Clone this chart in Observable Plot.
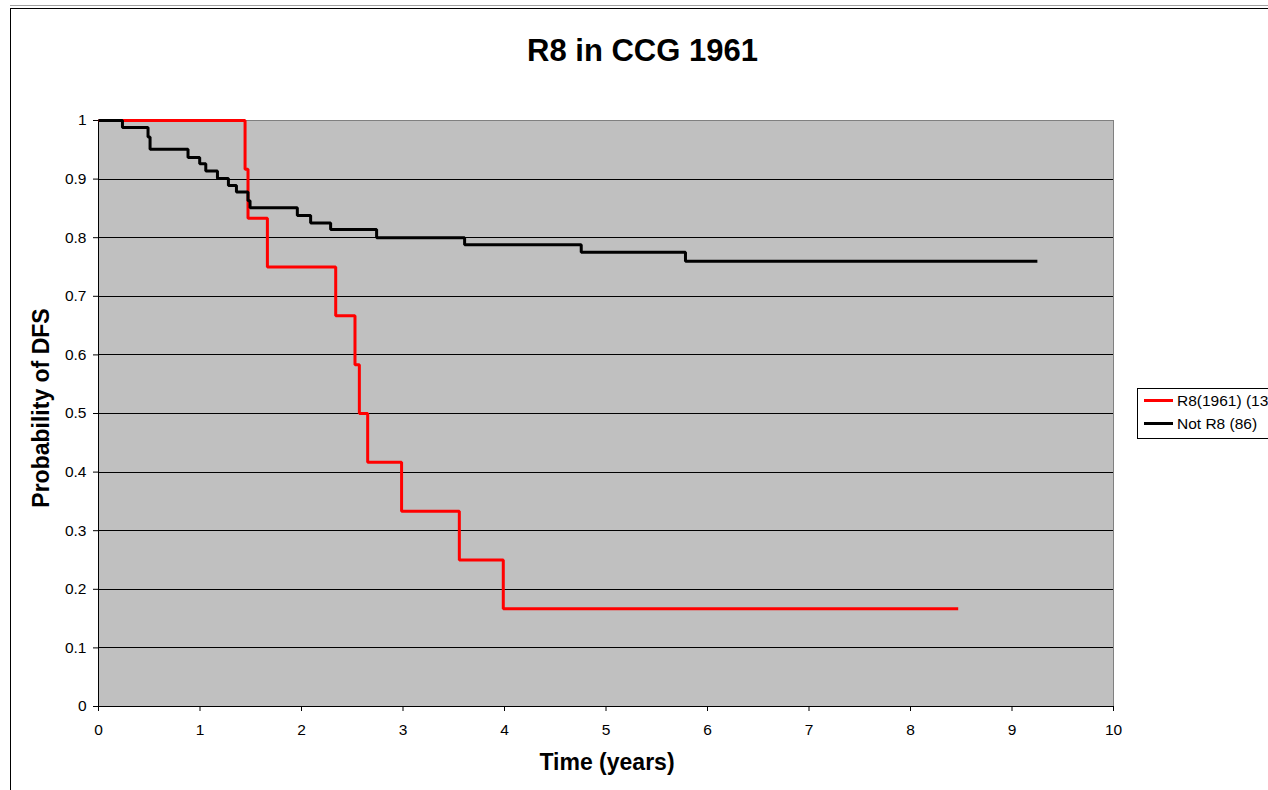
<!DOCTYPE html>
<html>
<head>
<meta charset="utf-8">
<script src="https://cdn.jsdelivr.net/npm/d3@7"></script>
<script src="https://cdn.jsdelivr.net/npm/@observablehq/plot@0.6"></script>
<style>
  html, body { margin: 0; padding: 0; background: #fff; }
  body { width: 1268px; height: 790px; overflow: hidden; position: relative; font-family: Arial, "Liberation Sans", sans-serif; }
  #frameTop { position: absolute; left: 10px; top: 5px; width: 1300px; height: 0; border-top: 1px solid #a0a0a0; }
  #frame { position: absolute; left: 10px; top: 8px; width: 1300px; height: 900px; border-top: 1px solid #000; border-left: 1px solid #000; }
  #chart { position: absolute; left: 0; top: 0; }
  .title { position: absolute; left: 0; width: 1285px; text-align: center; top: 33px; font-weight: bold; font-size: 31px; line-height: 36px; }
  .xlabel { position: absolute; left: 407px; width: 400px; text-align: center; top: 748px; font-weight: bold; font-size: 23px; line-height: 28px; }
  .ylabel { position: absolute; left: 41px; top: 408px; transform: translate(-50%, -50%) rotate(-90deg); white-space: nowrap; font-weight: bold; font-size: 23px; line-height: 28px; }
  #legend { position: absolute; left: 1137px; top: 388px; width: 200px; height: 49px; border: 1px solid #000; background: #fff; }
  .li { position: absolute; left: 6px; height: 20px; font-size: 15.5px; line-height: 20px; white-space: nowrap; }
  .sw { display: inline-block; width: 29px; height: 3px; vertical-align: middle; margin-right: 4px; position: relative; top: -1px; }
</style>
</head>
<body>
<div id="frameTop"></div>
<div id="frame"></div>
<div id="chart"></div>
<div class="title">R8 in CCG 1961</div>
<div class="ylabel">Probability of DFS</div>
<div class="xlabel">Time (years)</div>
<div id="legend"></div>
<script>
// Series: Kaplan-Meier style step curves (time in years, probability of DFS)
const seriesNames = ["R8(1961) (13)", "Not R8 (86)"];
const seriesColors = ["#FF0000", "#000000"];

const r8Time = [0, 1.444, 1.473, 1.664, 2.337, 2.527, 2.570, 2.652, 2.986, 3.555, 3.988, 8.47];
const r8Prob = [1, 0.917, 0.833, 0.750, 0.667, 0.583, 0.500, 0.417, 0.333, 0.250, 0.167, 0.167];

const notR8Time = [0, 0.236, 0.488, 0.508, 0.882, 0.997, 1.057, 1.172, 1.280, 1.359, 1.473, 1.493, 1.959, 2.090, 2.287, 2.740, 3.607, 4.756, 5.783, 9.25];
const notR8Prob = [1, 0.988, 0.972, 0.951, 0.937, 0.926, 0.914, 0.901, 0.889, 0.878, 0.863, 0.851, 0.838, 0.825, 0.814, 0.800, 0.788, 0.775, 0.760, 0.760];

const xTicks = [0, 1, 2, 3, 4, 5, 6, 7, 8, 9, 10];
const yTicks = [0, 0.1, 0.2, 0.3, 0.4, 0.5, 0.6, 0.7, 0.8, 0.9, 1];

const r8Data = r8Time.map((t, i) => ({t, p: r8Prob[i]}));
const notR8Data = notR8Time.map((t, i) => ({t, p: notR8Prob[i]}));

const chart = Plot.plot({
  width: 1268,
  height: 790,
  marginLeft: 98,
  marginRight: 155,
  marginTop: 120,
  marginBottom: 84,
  style: { fontFamily: "Arial, 'Liberation Sans', sans-serif", fontSize: "15.5px", color: "#000", background: "transparent", overflow: "visible" },
  x: { domain: [0, 10] },
  y: { domain: [0, 1] },
  marks: [
    Plot.frame({ fill: "#C0C0C0", stroke: null }),
    Plot.ruleY(yTicks.filter(v => v > 0 && v < 1), { stroke: "#000", strokeWidth: 1, shapeRendering: "crispEdges" }),
    Plot.ruleY([1], { stroke: "#808080", strokeWidth: 1, shapeRendering: "crispEdges" }),
    Plot.ruleX([10], { stroke: "#808080", strokeWidth: 1.5, shapeRendering: "crispEdges" }),
    Plot.ruleX([0], { stroke: "#000", strokeWidth: 1.5, shapeRendering: "crispEdges" }),
    Plot.ruleY([0], { stroke: "#000", strokeWidth: 1.5, shapeRendering: "crispEdges" }),
    Plot.axisY(yTicks, { tickSize: 5, tickPadding: 7, tickFormat: d => String(+d.toFixed(1)), label: null, stroke: "#000", fill: "#000" }),
    Plot.axisX(xTicks, { tickSize: 5, tickPadding: 12, tickFormat: d => String(d), label: null, stroke: "#000", fill: "#000" }),
    Plot.line(r8Data, { x: "t", y: "p", curve: "step-after", stroke: seriesColors[0], strokeWidth: 3, strokeLinejoin: "miter", strokeLinecap: "butt" }),
    Plot.line(notR8Data, { x: "t", y: "p", curve: "step-after", stroke: seriesColors[1], strokeWidth: 3, strokeLinejoin: "miter", strokeLinecap: "butt" })
  ]
});
document.getElementById("chart").appendChild(chart);

const legend = document.getElementById("legend");
seriesNames.forEach((name, i) => {
  const row = document.createElement("div");
  row.className = "li";
  row.style.top = (2 + i * 23) + "px";
  const sw = document.createElement("span");
  sw.className = "sw";
  sw.style.background = seriesColors[i];
  row.appendChild(sw);
  row.appendChild(document.createTextNode(name));
  legend.appendChild(row);
});
</script>
</body>
</html>
